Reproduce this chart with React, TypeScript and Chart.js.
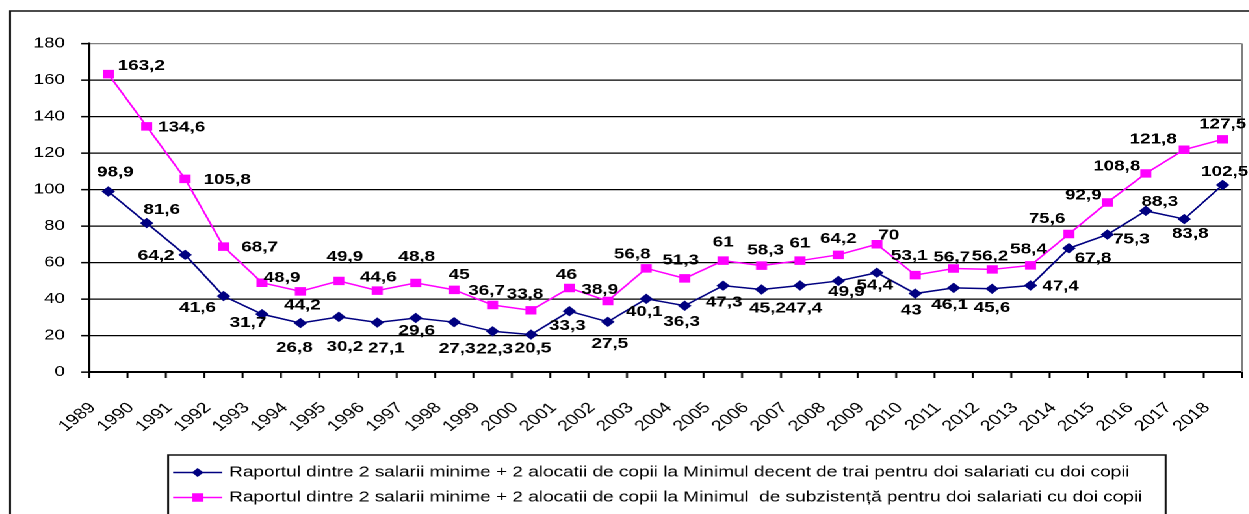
import React, { useEffect, useRef } from 'react';
import { Chart, registerables } from 'chart.js';

Chart.register(...registerables);

// ---- data ----
const years = [
  '1989', '1990', '1991', '1992', '1993', '1994', '1995', '1996', '1997', '1998',
  '1999', '2000', '2001', '2002', '2003', '2004', '2005', '2006', '2007', '2008',
  '2009', '2010', '2011', '2012', '2013', '2014', '2015', '2016', '2017', '2018',
];

const decentRatio = [
  98.9, 81.6, 64.2, 41.6, 31.7, 26.8, 30.2, 27.1, 29.6, 27.3,
  22.3, 20.5, 33.3, 27.5, 40.1, 36.3, 47.3, 45.2, 47.4, 49.9,
  54.4, 43, 46.1, 45.6, 47.4, 67.8, 75.3, 88.3, 83.8, 102.5,
];

const subsistenceRatio = [
  163.2, 134.6, 105.8, 68.7, 48.9, 44.2, 49.9, 44.6, 48.8, 45,
  36.7, 33.8, 46, 38.9, 56.8, 51.3, 61, 58.3, 61, 64.2,
  70, 53.1, 56.7, 56.2, 58.4, 75.6, 92.9, 108.8, 121.8, 127.5,
];

const seriesLabels = [
  'Raportul dintre 2 salarii minime + 2 alocatii de copii la Minimul decent de trai pentru doi salariati cu doi copii',
  'Raportul dintre 2 salarii minime + 2 alocatii de copii la Minimul  de subzistență pentru doi salariati cu doi copii',
];

const yMin = 0;
const yMax = 180;
const yStep = 20;

// label nudges (screen px, relative to the marker) – presentation only
const decentLabelNudge = [
  [7, -19], [15, -13], [-29, 1], [-26, 12], [-14, 9], [-6, 25], [6, 30], [9, 26], [1, 13], [3, 27],
  [2, 18], [2, 14], [-2, 15], [2, 22], [-2, 13], [-3, 16], [1, 17], [6, 19], [4, 23], [8, 11],
  [-2, 13], [-4, 17], [-4, 17], [0, 19], [30, 1], [24, 10], [24, 5], [14, -9], [6, 15], [2, -13],
];
const subsistenceLabelNudge = [
  [33, -8], [35, 1], [42, 1], [36, 1], [20, -5], [2, 14], [6, -24], [1, -13], [1, -26], [5, -15],
  [-6, -14], [-6, -16], [-3, -13], [-8, -11], [-14, -14], [-4, -18], [0, -18], [4, -15], [0, -17], [0, -16],
  [12, -9], [-6, -19], [-2, -11], [-2, -13], [-2, -16], [-22, -15], [-24, -7], [-29, -7], [-31, -10], [0, -15],
];

// ---- layout ----
const S = 1.3; // horizontal stretch of the original picture
const PAGE_W = 1249;
const PAGE_H = 514;
const W = PAGE_W / S;
const FONT = "Arial, 'Liberation Sans', Helvetica, sans-serif";
const NAVY = '#000080';
const MAGENTA = '#FF00FF';

const fmt = (v: number) => String(v).replace('.', ',');

const customPlugin = {
  id: 'customDecor',
  beforeDraw(chart: any) {
    const ctx = chart.ctx;
    ctx.save();
    ctx.fillStyle = '#fff';
    ctx.fillRect(0, 0, chart.width, chart.height);
    ctx.strokeStyle = '#111';
    ctx.lineWidth = 1.5;
    ctx.strokeRect(10 / S, 11, chart.width + 40, chart.height + 40);
    ctx.restore();
  },
  beforeDatasetsDraw(chart: any) {
    const ctx = chart.ctx;
    const { top, bottom, right } = chart.chartArea;
    ctx.save();
    ctx.strokeStyle = '#808080';
    ctx.lineWidth = 1.5;
    ctx.beginPath();
    ctx.moveTo(right, top);
    ctx.lineTo(right, bottom);
    ctx.stroke();
    ctx.restore();
  },
  afterDatasetsDraw(chart: any) {
    const ctx = chart.ctx;
    const nudges = [decentLabelNudge, subsistenceLabelNudge];
    ctx.save();
    ctx.font = `bold 14.5px ${FONT}`;
    ctx.fillStyle = '#000';
    ctx.textAlign = 'center';
    ctx.textBaseline = 'middle';
    chart.data.datasets.forEach((ds: any, di: number) => {
      const meta = chart.getDatasetMeta(di);
      meta.data.forEach((pt: any, i: number) => {
        const n = nudges[di][i];
        ctx.fillText(fmt(ds.data[i]), pt.x + n[0] / S, pt.y + n[1]);
      });
    });
    ctx.restore();
  },
  afterDraw(chart: any) {
    const ctx = chart.ctx;
    ctx.save();
    // legend frame
    ctx.strokeStyle = '#111';
    ctx.lineWidth = 1.5;
    ctx.strokeRect(168 / S, 455, (1165 - 168) / S, 120);
    const rows = [472.5, 497.5];
    chart.data.datasets.forEach((ds: any, di: number) => {
      const y = rows[di];
      const x0 = 173 / S;
      const x1 = 222 / S;
      const xm = (x0 + x1) / 2;
      ctx.strokeStyle = ds.borderColor;
      ctx.fillStyle = ds.borderColor;
      ctx.lineWidth = 1.5;
      ctx.beginPath();
      ctx.moveTo(x0, y);
      ctx.lineTo(x1, y);
      ctx.stroke();
      if (ds.pointStyle === 'rectRot') {
        const r = ds.pointRadius;
        ctx.beginPath();
        ctx.moveTo(xm - r, y);
        ctx.lineTo(xm, y - r);
        ctx.lineTo(xm + r, y);
        ctx.lineTo(xm, y + r);
        ctx.closePath();
        ctx.fill();
      } else {
        const h = ds.pointRadius * Math.SQRT1_2;
        ctx.fillRect(xm - h, y - h, 2 * h, 2 * h);
      }
      ctx.fillStyle = '#000';
      ctx.font = `14.6px ${FONT}`;
      ctx.textAlign = 'left';
      ctx.textBaseline = 'middle';
      ctx.fillText(ds.label, 229 / S, y);
    });
    ctx.restore();
  },
};

export default function App() {
  const canvasRef = useRef<HTMLCanvasElement | null>(null);

  useEffect(() => {
    const canvas = canvasRef.current;
    if (!canvas) return;
    const chart = new Chart(canvas, {
      type: 'line',
      data: {
        labels: years,
        datasets: [
          {
            label: seriesLabels[0],
            data: decentRatio,
            borderColor: NAVY,
            backgroundColor: NAVY,
            borderWidth: 1.5,
            pointStyle: 'rectRot',
            pointRadius: 4.5,
            pointBorderWidth: 1,
            pointBackgroundColor: NAVY,
            pointBorderColor: NAVY,
            tension: 0,
          },
          {
            label: seriesLabels[1],
            data: subsistenceRatio,
            borderColor: MAGENTA,
            backgroundColor: MAGENTA,
            borderWidth: 1.5,
            pointStyle: 'rect',
            pointRadius: 6,
            pointBorderWidth: 0,
            pointBackgroundColor: MAGENTA,
            pointBorderColor: MAGENTA,
            tension: 0,
          },
        ],
      },
      options: {
        animation: false,
        responsive: true,
        maintainAspectRatio: false,
        devicePixelRatio: 2,
        layout: {
          padding: { top: 43.5, left: 0, right: W - 1247 / S, bottom: 0 },
        },
        plugins: {
          legend: { display: false },
          tooltip: { enabled: false },
        },
        scales: {
          x: {
            type: 'category',
            offset: true,
            grid: {
              offset: true,
              drawOnChartArea: false,
              drawTicks: true,
              tickLength: 6,
              tickWidth: 1.5,
              tickColor: '#000',
            },
            border: { display: true, color: '#000', width: 2 },
            ticks: {
              autoSkip: false,
              minRotation: 45,
              maxRotation: 45,
              color: '#000',
              font: { family: FONT, size: 15 },
              padding: 21,
              labelOffset: -12,
            },
            afterFit: (scale: any) => {
              scale.height = PAGE_H - 372;
              scale.paddingLeft = 0;
              scale.paddingRight = 0;
            },
          },
          y: {
            min: yMin,
            max: yMax,
            ticks: {
              stepSize: yStep,
              color: '#000',
              font: { family: FONT, size: 14.5 },
              padding: 12.5,
            },
            grid: {
              color: (c: any) => (c.tick && c.tick.value === yMax ? '#808080' : '#000'),
              lineWidth: 1.3,
              tickLength: 6,
              tickColor: '#000',
              tickWidth: 1.5,
            },
            border: { display: true, color: '#000', width: 2 },
            afterFit: (scale: any) => {
              scale.width = 89 / S;
            },
          },
        },
      },
      plugins: [customPlugin],
    });
    return () => chart.destroy();
  }, []);

  return (
    <div
      style={{
        position: 'fixed',
        left: 0,
        top: 0,
        width: W,
        height: PAGE_H,
        transform: `scaleX(${S})`,
        transformOrigin: '0 0',
        background: '#fff',
      }}
    >
      <canvas ref={canvasRef} style={{ display: 'block' }} />
    </div>
  );
}
